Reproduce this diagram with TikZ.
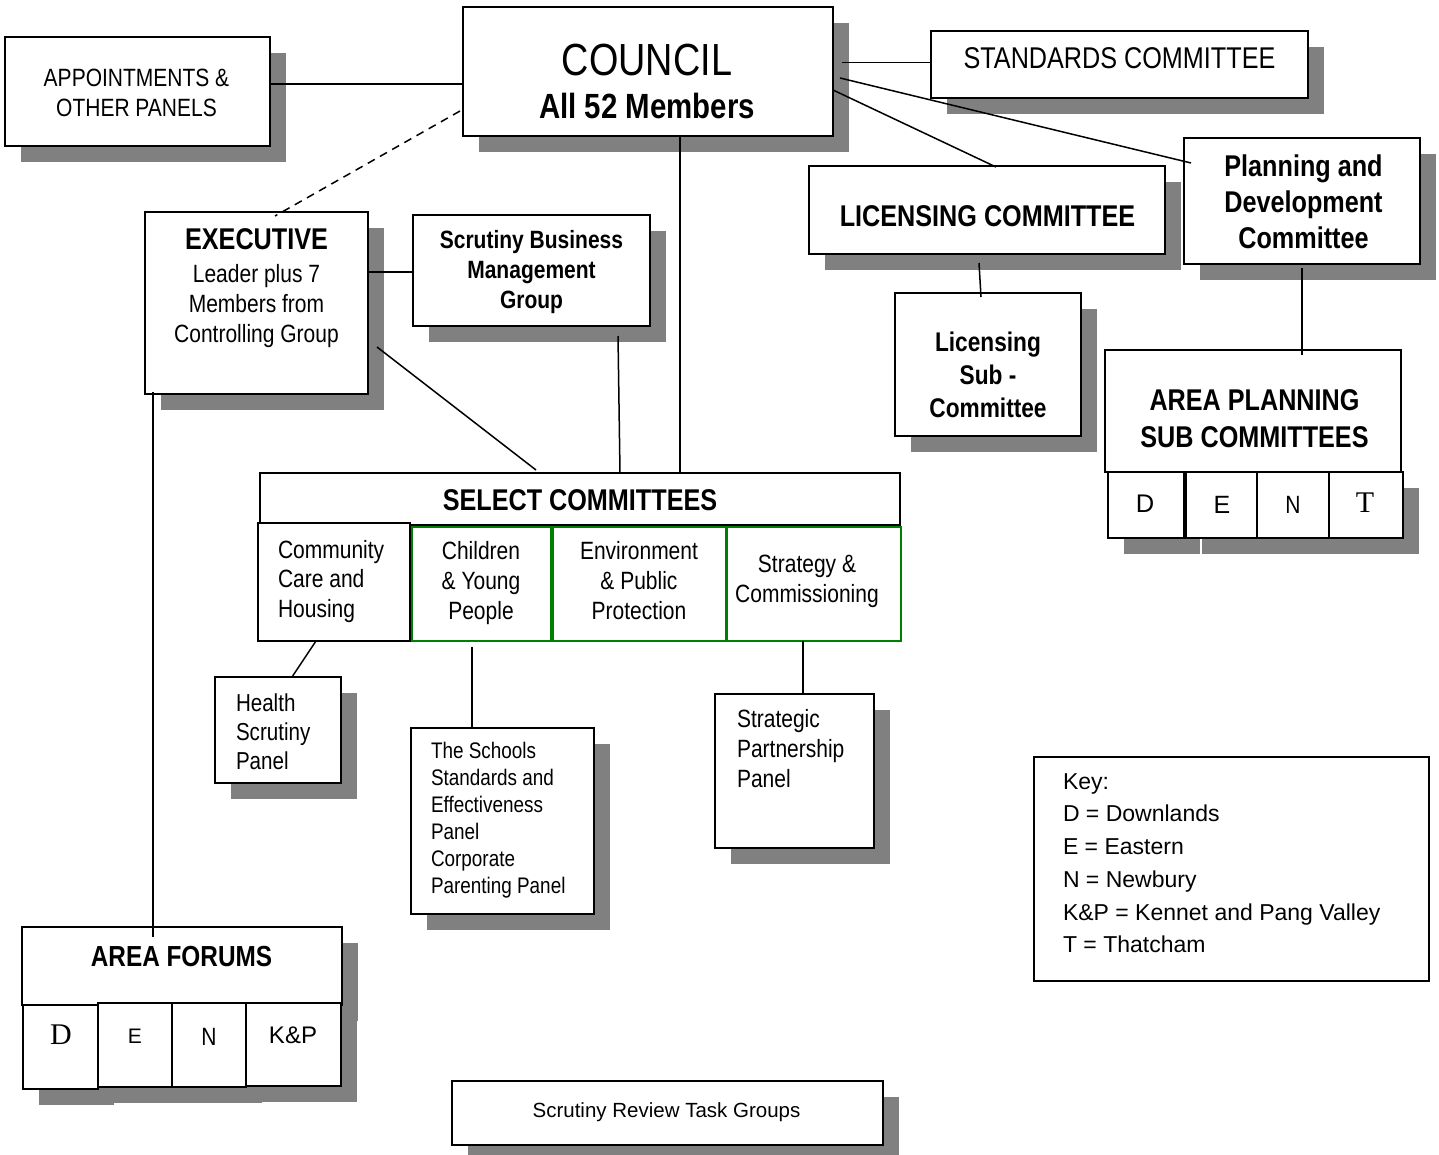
\documentclass[tikz,border=0pt]{standalone}
\usepackage{fontspec}
\setmainfont{Liberation Sans}[FakeStretch=0.84]
\newfontfamily\fullsans{Liberation Sans}
\newfontfamily\tnr{Liberation Serif}
\usetikzlibrary{shadows}
\definecolor{shgray}{HTML}{808080}
\definecolor{boxgreen}{HTML}{008000}
\newcommand\fsz[2]{\fontsize{#1}{#2}\selectfont}
\newcommand\Bx[6]{\node[#1, minimum width={#5-#3}, minimum height={#6-#4}] (#2) at ({(#3+#5)/2},{(#4+#6)/2}) {};}
\tikzset{
  bx/.style={draw=black, line width=2pt, fill=white, inner sep=0pt, outer sep=0pt},
  sh/.style={drop shadow={shadow xshift=16pt, shadow yshift=-16pt, fill=shgray, opacity=1}},
  gbx/.style={bx, draw=boxgreen},
  conn/.style={line width=1.5pt, draw=black},
  txt/.style={inner sep=0pt, outer sep=0pt, align=center},
  txtl/.style={inner sep=0pt, outer sep=0pt, align=left},
}
\begin{document}
\begin{tikzpicture}[x=1pt, y=-1pt]
\fill[white] (0,0) rectangle (1439,1155);
\useasboundingbox (0,0) rectangle (1439,1155);

% boxes
\Bx{bx,sh}{appt}{5}{37}{270}{146}
\Bx{bx,sh}{council}{463}{7}{833}{136}
\Bx{bx,sh}{standards}{931}{31}{1308}{98}
\Bx{bx,sh}{licensing}{809}{166}{1165}{254}
\Bx{bx,sh}{planning}{1184}{138}{1420}{264}
\Bx{bx,sh}{licsub}{895}{293}{1081}{436}
\Bx{bx}{aps}{1105}{350}{1401}{472}
\Bx{bx,sh}{apsD}{1108}{472}{1184}{538}
\Bx{bx,sh}{apsE}{1186}{472}{1257}{538}
\Bx{bx,sh}{apsN}{1257}{472}{1329}{538}
\Bx{bx,sh}{apsT}{1329}{472}{1403}{538}
\Bx{bx,sh}{exec}{145}{212}{368}{394}
\Bx{bx,sh}{sbmg}{413}{215}{650}{326}
\Bx{bx}{select}{260}{473}{900}{525}
\Bx{bx}{comm}{258}{523}{410}{641}
\Bx{gbx}{children}{412}{527}{551}{641}
\Bx{gbx}{env}{553}{527}{726}{641}
\Bx{gbx}{strategy}{727}{527}{901}{641}
\Bx{bx,sh}{health}{215}{677}{341}{783}
\Bx{bx,sh}{schools}{411}{728}{594}{914}
\Bx{bx,sh}{strategic}{715}{694}{874}{848}
\Bx{bx}{key}{1034}{757}{1429}{981}
\Bx{bx,sh}{af}{22}{927}{342}{1005}
\Bx{bx,sh}{afD}{23}{1005}{98}{1089}
\Bx{bx,sh}{afE}{98}{1003}{172}{1087}
\Bx{bx,sh}{afN}{172}{1003}{246}{1087}
\Bx{bx,sh}{afK}{246}{1003}{341}{1086}
\Bx{bx,sh}{srtg}{452}{1081}{883}{1145}

% connectors
\draw[conn] ([yshift=7.5pt]appt.east) -- ([yshift=7.5pt]appt.east -| council.west);
\draw[conn, dash pattern=on 8pt off 6pt] ([xshift=-3pt,yshift=-39.5pt]council.west) -- ([xshift=18.5pt,yshift=-4pt]exec.north);
\draw[conn] ([xshift=9pt,yshift=8.8pt]council.east) coordinate (cs) -- (cs -| standards.west);
\draw[conn] ([xshift=7pt,yshift=-6.5pt]council.east) -- ([xshift=7pt,yshift=38pt]planning.west);
\draw[conn] ([yshift=-18.5pt]council.east) -- ([xshift=9pt,yshift=-1pt]licensing.north);
\draw[conn] ([xshift=32pt]council.south) coordinate (cb) -- (cb |- select.north);
\draw[conn] ([xshift=-1pt,yshift=31pt]exec.east) coordinate (es) -- (es -| sbmg.west);
\draw[conn] ([xshift=9pt,yshift=-44pt]exec.east) -- ([xshift=-44pt,yshift=3pt]select.north);
\draw[conn] ([xshift=86.5pt,yshift=-10pt]sbmg.south) -- ([xshift=40pt]select.north);
\draw[conn] ([xshift=-103.5pt,yshift=2pt]exec.south) -- ([xshift=-29pt,yshift=-10pt]af.north);
\draw[conn] ([xshift=-8pt,yshift=-9pt]licensing.south) -- ([xshift=-7pt,yshift=-4pt]licsub.north);
\draw[conn] ([yshift=-4pt]planning.south) -- ([xshift=49pt,yshift=-5pt]aps.north);
\draw[conn] ([xshift=-18pt]comm.south) -- ([xshift=14pt]health.north);
\draw[conn] ([xshift=-9.5pt,yshift=-6pt]children.south) -- ([xshift=-30.5pt]schools.north);
\draw[conn] ([xshift=-11pt]strategy.south) -- ([xshift=8.5pt]strategic.north);

% texts
\node[txt, anchor=north, font=\fsz{25}{30}] (apptT) at (136.5,69) {APPOINTMENTS \&\\OTHER PANELS};
\node[txt, anchor=base, font=\fsz{45}{54}] (councilA) at (647,76) {COUNCIL};
\node[txt, anchor=base, font=\fsz{35}{42}\bfseries] (councilB) at (647,119) {All 52 Members};
\node[txt, anchor=base, font=\fsz{30}{35}] (standardsT) at (1119.5,68.5) {STANDARDS COMMITTEE};
\node[txt, anchor=base, font=\fsz{30}{36}\bfseries] (licensingT) at (987.5,227) {LICENSING COMMITTEE};
\node[txt, anchor=north, font=\fsz{30}{36}\bfseries] (planningT) at (1303.5,154.4) {Planning and\\Development\\Committee};
\node[txt, anchor=north, font=\fsz{27}{33}\bfseries] (licsubT) at (988,331.6) {Licensing\\Sub -\\Committee};
\node[txt, anchor=north, font=\fsz{30}{37}\bfseries] (apsTT) at (1254.5,389.4) {AREA PLANNING\\SUB COMMITTEES};
\node[txt, anchor=base, font=\fsz{25.5}{31}\fullsans] (apsDT) at (1145,512) {D};
\node[txt, anchor=base, font=\fsz{25}{31}\fullsans] (apsET) at (1222,513) {E};
\node[txt, anchor=base, font=\fsz{25}{31}] (apsNT) at (1293,513) {N};
\node[txt, anchor=base, font=\fsz{30}{36}\tnr] (apsTTT) at (1365,512) {T};
\node[txt, anchor=base, font=\fsz{30}{36}\bfseries] (execA) at (256.5,250) {EXECUTIVE};
\node[txt, anchor=north, font=\fsz{25}{30}] (execB) at (256.5,264) {Leader plus 7\\Members from\\Controlling Group};
\node[txt, anchor=north, font=\fsz{25}{30}\bfseries] (sbmgT) at (531.5,230.5) {Scrutiny Business\\Management\\Group};
\node[txt, anchor=base, font=\fsz{30}{36}\bfseries] (selectT) at (580,510) {SELECT COMMITTEES};
\node[txtl, anchor=north west, font=\fsz{25}{29.5}] (commT) at (278,540) {Community\\Care and\\Housing};
\node[txt, anchor=north, font=\fsz{25}{30}] (childrenT) at (481,541) {Children\\\& Young\\People};
\node[txt, anchor=north, font=\fsz{25}{30}] (envT) at (639,541) {Environment\\\& Public\\Protection};
\node[txt, anchor=north, font=\fsz{25}{30}] (strategyT) at (807,555) {Strategy \&\\Commissioning};
\node[txtl, anchor=north west, font=\fsz{24.5}{29}] (healthT) at (236,693.4) {Health\\Scrutiny\\Panel};
\node[txtl, anchor=north west, font=\fsz{22.5}{27}] (schoolsT) at (431,741.8) {The Schools\\Standards and\\Effectiveness\\Panel\\Corporate\\Parenting Panel};
\node[txtl, anchor=north west, font=\fsz{25}{30}] (strategicT) at (737,709) {Strategic\\Partnership\\Panel};
\node[txtl, anchor=north west, font=\fsz{23}{32.7}\fullsans] (keyT) at (1063,773.4) {Key:\\D = Downlands\\E = Eastern\\N = Newbury\\K\&P = Kennet and Pang Valley\\T = Thatcham};
\node[txt, anchor=base, font=\fsz{29}{35}\bfseries] (afT) at (181.5,966) {AREA FORUMS};
\node[txt, anchor=base, font=\fsz{30}{36}\tnr] (afDT) at (61,1044) {D};
\node[txt, anchor=base, font=\fsz{21}{27}\fullsans] (afET) at (135,1043) {E};
\node[txt, anchor=base, font=\fsz{25}{30}] (afNT) at (209,1045) {N};
\node[txt, anchor=base, font=\fsz{24}{30}\fullsans] (afKT) at (293,1043) {K\&P};
\node[txt, anchor=base, font=\fsz{20.5}{25}\fullsans] (srtgT) at (666.5,1117) {Scrutiny Review Task Groups};
\end{tikzpicture}
\end{document}
